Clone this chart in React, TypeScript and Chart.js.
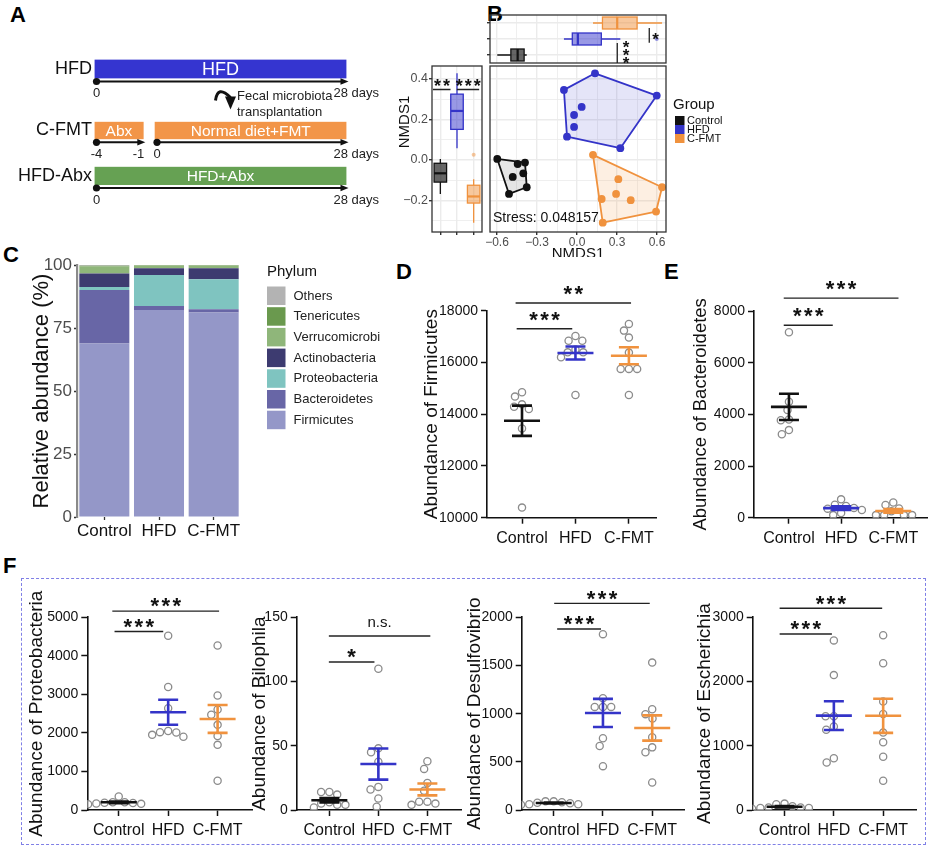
import React, { useEffect, useRef } from 'react';
import { Chart, registerables } from 'chart.js';

Chart.register(...registerables);

const FONT = '"Liberation Sans", Arial, Helvetica, sans-serif';
Chart.defaults.font.family = FONT;
Chart.defaults.color = '#111';

// ================= DATA =================
const GROUPS = ['Control', 'HFD', 'C-FMT'];

// Panel A - experimental timeline (days)
const TIMELINE_ROWS = ['HFD', 'C-FMT', 'HFD-Abx'];
const PHASE_NAMES = ['HFD', 'Abx', 'Normal diet+FMT', 'HFD+Abx'];
const HFD_DAYS = [0, 28];
const ABX_DAYS = [-4, -1];
const FMT_DAYS = [0, 28];
const HFD_ABX_DAYS = [0, 28];
const FMT_NOTE = ['Fecal microbiota', 'transplantation'];

// Panel B - NMDS coordinates [NMDS1, NMDS2]
const NMDS_CONTROL = [[-0.598, 0.005], [-0.445, -0.02], [-0.39, -0.013], [-0.482, -0.084], [-0.403, -0.066], [-0.377, -0.135], [-0.51, -0.168]];
const NMDS_HFD = [[0.135, 0.428], [-0.098, 0.346], [0.598, 0.318], [0.035, 0.262], [-0.022, 0.222], [-0.022, 0.163], [-0.075, 0.115], [0.325, 0.058]];
const NMDS_CFMT = [[0.12, 0.025], [0.31, -0.095], [0.293, -0.168], [0.185, -0.193], [0.403, -0.199], [0.638, -0.135], [0.593, -0.255], [0.193, -0.31]];
const NMDS_STRESS = '0.048157';
const NMDS1_TICKS = [-0.6, -0.3, 0, 0.3, 0.6];
const NMDS2_TICKS = [-0.2, 0, 0.2, 0.4];

// Panel C - relative abundance (%)
const PHYLA = ['Firmicutes', 'Bacteroidetes', 'Proteobacteria', 'Actinobacteria', 'Verrucomicrobia', 'Tenericutes', 'Others'];
const PHYLUM_CONTROL = [68.8, 21.3, 1.2, 5.3, 2.8, 0.3, 0.3];
const PHYLUM_HFD = [82.1, 1.6, 12.3, 2.7, 1.0, 0.2, 0.1];
const PHYLUM_CFMT = [81.2, 1.2, 11.9, 4.4, 1.0, 0.2, 0.1];
const PHYLUM_TICKS = [0, 25, 50, 75, 100];

// Panel D
const FIRMICUTES_CONTROL = [14850, 14680, 14290, 14380, 14200, 13450, 10390];
const FIRMICUTES_HFD = [16840, 17020, 16840, 16390, 16390, 16500, 16200, 14740];
const FIRMICUTES_CFMT = [17490, 17230, 16960, 16380, 15750, 15750, 15750, 14740];
// Panel E
const BACTEROIDETES_CONTROL = [7180, 3800, 3770, 3230, 3390, 4490, 4170];
const BACTEROIDETES_HFD = [710, 100, 450, 500, 180, 380, 300, 350];
const BACTEROIDETES_CFMT = [490, 590, 360, 100, 100, 100, 100, 250];
// Panel F
const PROTEO_CONTROL = [350, 200, 180, 160, 150, 200, 170, 190];
const PROTEO_HFD = [4520, 3190, 2640, 1950, 2050, 2010, 2020, 1900];
const PROTEO_CFMT = [4270, 2970, 2470, 2610, 2210, 1920, 1690, 760];
const BILOPHILA_CONTROL = [12, 14, 14, 4, 5, 2, 6, 4];
const BILOPHILA_HFD = [110, 48, 45, 37.6, 16, 18, 9, 2.6];
const BILOPHILA_CFMT = [38, 32, 21, 15, 4, 6.5, 5, 6.5];
const DESULFO_CONTROL = [60, 90, 90, 80, 70, 55, 60, 75];
const DESULFO_HFD = [1825, 1070, 1070, 1070, 1160, 745, 665, 455];
const DESULFO_CFMT = [1530, 1045, 950, 995, 755, 650, 600, 285];
const ESCH_CONTROL = [90, 100, 30, 20, 40, 60, 30, 40];
const ESCH_HFD = [2640, 2100, 1460, 1460, 1300, 1250, 740, 805];
const ESCH_CFMT = [2720, 2285, 1690, 1495, 1205, 1055, 830, 455];

// ================= STYLE =================
const GROUP_COLORS = ['#111111', '#3434c8', '#f0923e'];
const HULL_FILLS = ['rgba(0,0,0,0.1)', 'rgba(52,52,204,0.13)', 'rgba(240,146,62,0.15)'];
const BOX_FILLS = ['rgba(0,0,0,0.6)', 'rgba(52,52,204,0.5)', 'rgba(240,146,62,0.5)'];
const PHYLUM_COLORS = ['#9497c8', '#6866a6', '#7fc4c0', '#3d3b70', '#8fb67a', '#6a994e', '#b3b3b3'];
const TIMELINE_COLORS = ['#3535d0', '#f29548', '#f29548', '#66a153'];

const NMDS1_RANGE = [-0.6525, 0.6675];
const NMDS2_RANGE = [-0.356, 0.464];

// ================= HELPERS =================
const base: any = {
  responsive: false,
  maintainAspectRatio: false,
  animation: false,
  events: [],
  plugins: { legend: { display: false }, tooltip: { enabled: false }, title: { display: false } },
};

const zeroPad = (s: any) => { s.paddingLeft = 0; s.paddingRight = 0; s.paddingTop = 0; s.paddingBottom = 0; };

const mean = (a: number[]) => a.reduce((s, v) => s + v, 0) / a.length;
const sem = (a: number[]) => {
  const m = mean(a);
  const sd = Math.sqrt(a.reduce((s, v) => s + (v - m) ** 2, 0) / (a.length - 1));
  return sd / Math.sqrt(a.length);
};

function quantile(sorted: number[], p: number) {
  const pos = (sorted.length - 1) * p;
  const lo = Math.floor(pos), hi = Math.ceil(pos);
  return sorted[lo] + (sorted[hi] - sorted[lo]) * (pos - lo);
}
function boxStats(vals: number[]) {
  const s = [...vals].sort((a, b) => a - b);
  const q1 = quantile(s, 0.25), med = quantile(s, 0.5), q3 = quantile(s, 0.75);
  const iqr = q3 - q1;
  const lf = q1 - 1.5 * iqr, uf = q3 + 1.5 * iqr;
  const inside = s.filter(v => v >= lf && v <= uf);
  return { q1, med, q3, lo: inside[0], hi: inside[inside.length - 1], out: s.filter(v => v < lf || v > uf) };
}

function convexHull(pts: number[][]) {
  const p = [...pts].sort((a, b) => a[0] - b[0] || a[1] - b[1]);
  const cross = (o: number[], a: number[], b: number[]) => (a[0] - o[0]) * (b[1] - o[1]) - (a[1] - o[1]) * (b[0] - o[0]);
  const lower: number[][] = [];
  for (const q of p) { while (lower.length >= 2 && cross(lower[lower.length - 2], lower[lower.length - 1], q) <= 0) lower.pop(); lower.push(q); }
  const upper: number[][] = [];
  for (const q of [...p].reverse()) { while (upper.length >= 2 && cross(upper[upper.length - 2], upper[upper.length - 1], q) <= 0) upper.pop(); upper.push(q); }
  return lower.slice(0, -1).concat(upper.slice(0, -1));
}

// beeswarm offsets (px) for a set of values
function swarm(vals: number[], pxPerVal: number, d: number) {
  const order = vals.map((_, i) => i).sort((a, b) => vals[b] - vals[a]);
  const placed: { x: number; y: number }[] = [];
  const out = new Array(vals.length).fill(0);
  for (const i of order) {
    const y = vals[i] * pxPerVal;
    const cands = [0];
    for (const p of placed) {
      const dy = Math.abs(p.y - y);
      if (dy < d) { const dx = Math.sqrt(d * d - dy * dy); cands.push(p.x + dx, p.x - dx); }
    }
    cands.sort((a, b) => Math.abs(a) - Math.abs(b) || a - b);
    let chosen = 0;
    for (const c of cands) {
      if (placed.every(p => (p.x - c) ** 2 + (p.y - y) ** 2 >= d * d - 0.01)) { chosen = c; break; }
    }
    placed.push({ x: chosen, y });
    out[i] = chosen;
  }
  return out;
}

function withMinors(majors: number[], range: number[]) {
  const step = majors[1] - majors[0];
  const all: number[] = [];
  for (let k = -1; k <= (majors.length - 1) * 2 + 1; k++) {
    const v = +(majors[0] + (k * step) / 2).toFixed(4);
    if (v >= range[0] - 1e-9 && v <= range[1] + 1e-9) all.push(v);
  }
  return all;
}
const isMajorOf = (majors: number[]) => (v: number) => majors.some(m => Math.abs(m - v) < 1e-6);
const fmtNum = (v: number) => (v < -1e-9 ? '\u2212' : '') + Math.abs(v).toFixed(1);

function drawLabel(ctx: any, label: string, cx: number, cy: number, size: number) {
  ctx.save();
  ctx.fillStyle = '#111';
  if (label.startsWith('*')) {
    const ls = size * 0.11;
    ctx.font = `bold ${size}px ${FONT}`;
    ctx.letterSpacing = `${ls}px`;
    ctx.textAlign = 'center';
    ctx.textBaseline = 'alphabetic';
    ctx.fillText(label, cx + ls / 2, cy + 0.56 * size);
  } else {
    ctx.font = `15px ${FONT}`;
    ctx.textAlign = 'center';
    ctx.textBaseline = 'middle';
    ctx.fillText(label, cx, cy);
  }
  ctx.restore();
}

function drawBox(ctx: any, st: any, cat: number, valScale: any, catScale: any, horizontal: boolean, g: number) {
  const c = catScale.getPixelForValue(cat);
  const hw = Math.abs(catScale.getPixelForValue(cat + 0.375) - c);
  const P = (v: number) => valScale.getPixelForValue(v);
  const pt = (v: number, o: number) => (horizontal ? [P(v), c + o] : [c + o, P(v)]);
  ctx.save();
  ctx.strokeStyle = GROUP_COLORS[g];
  ctx.lineWidth = 1.3;
  ctx.beginPath();
  let a = pt(st.lo, 0), b = pt(st.q1, 0);
  ctx.moveTo(a[0], a[1]); ctx.lineTo(b[0], b[1]);
  a = pt(st.q3, 0); b = pt(st.hi, 0);
  ctx.moveTo(a[0], a[1]); ctx.lineTo(b[0], b[1]);
  ctx.stroke();
  const c1 = pt(st.q1, -hw), c2 = pt(st.q3, hw);
  const rx = Math.min(c1[0], c2[0]), ry = Math.min(c1[1], c2[1]);
  const rw = Math.abs(c2[0] - c1[0]), rh = Math.abs(c2[1] - c1[1]);
  ctx.fillStyle = BOX_FILLS[g];
  ctx.fillRect(rx, ry, rw, rh);
  ctx.strokeRect(rx, ry, rw, rh);
  const m1 = pt(st.med, -hw), m2 = pt(st.med, hw);
  ctx.lineWidth = 2.2;
  ctx.beginPath(); ctx.moveTo(m1[0], m1[1]); ctx.lineTo(m2[0], m2[1]); ctx.stroke();
  ctx.restore();
}

function frame(chart: any) {
  const { ctx, chartArea: a } = chart;
  ctx.save();
  ctx.strokeStyle = '#333';
  ctx.lineWidth = 1.3;
  ctx.strokeRect(a.left, a.top, a.right - a.left, a.bottom - a.top);
  ctx.restore();
}

type BoxPos = { left: number; top: number; width: number; height: number; clip?: number };

function ChartBox({ box, config }: { box: BoxPos; config: () => any }) {
  const ref = useRef<HTMLCanvasElement | null>(null);
  useEffect(() => {
    if (!ref.current) return;
    const chart = new Chart(ref.current, config());
    return () => chart.destroy();
  }, []);
  return (
    <div style={{ position: 'absolute', left: box.left, top: box.top, width: box.width, height: box.clip ?? box.height, overflow: 'hidden' }}>
      <canvas ref={ref} width={box.width} height={box.height} style={{ display: 'block', width: box.width, height: box.height }} />
    </div>
  );
}

// ================= PANEL A =================
const ROW_AREA_LEFT = 94.5;
const ROW_AREA_RIGHT = 346.5;
const ROW_WIDTH = 400;

function rowConfig(o: { label: string; bars: any[]; axes: Record<string, number[]>; padTop: number; padBottom: number; extra?: (c: any) => void }) {
  const scales: any = {
    y: {
      type: 'category', position: 'left',
      afterFit: (s: any) => { s.width = ROW_AREA_LEFT; zeroPad(s); },
      grid: { display: false, drawTicks: false }, border: { display: false },
      ticks: { font: { size: 18 }, color: '#111', padding: 2.5 },
    },
  };
  for (const [id, r] of Object.entries(o.axes)) {
    scales[id] = { type: 'linear', axis: 'x', position: 'bottom', min: r[0], max: r[1], display: false };
  }
  return {
    type: 'bar',
    data: {
      labels: [o.label],
      datasets: o.bars.map(b => ({
        label: b.text, data: [b.period], backgroundColor: b.color, xAxisID: b.axis,
        barPercentage: 1, categoryPercentage: 1, grouped: false, borderWidth: 0, textSize: b.size,
      })),
    },
    options: {
      ...base, indexAxis: 'y',
      layout: { padding: { left: 0, right: ROW_WIDTH - ROW_AREA_RIGHT, top: o.padTop, bottom: o.padBottom } },
      scales,
    },
    plugins: [{
      id: 'timeline',
      afterDatasetsDraw(chart: any) {
        const { ctx, chartArea } = chart;
        const ay = chartArea.bottom + 3;
        chart.data.datasets.forEach((ds: any, i: number) => {
          const el = chart.getDatasetMeta(i).data[0];
          const sc = chart.scales[ds.xAxisID];
          const [s, e] = ds.data[0];
          const x0 = sc.getPixelForValue(s), x1 = sc.getPixelForValue(e);
          ctx.save();
          ctx.fillStyle = '#fff';
          ctx.font = `${ds.textSize}px ${FONT}`;
          ctx.textAlign = 'center';
          ctx.textBaseline = 'middle';
          ctx.fillText(ds.label, (x0 + x1) / 2, el.y + 1);
          const sx = x0 + 2;
          ctx.strokeStyle = '#111'; ctx.fillStyle = '#111'; ctx.lineWidth = 1.9;
          ctx.beginPath(); ctx.moveTo(sx, ay); ctx.lineTo(x1 - 3, ay); ctx.stroke();
          ctx.beginPath(); ctx.arc(sx, ay, 3.6, 0, Math.PI * 2); ctx.fill();
          ctx.beginPath(); ctx.moveTo(x1 + 2, ay); ctx.lineTo(x1 - 6, ay - 3.3); ctx.lineTo(x1 - 6, ay + 3.3); ctx.closePath(); ctx.fill();
          ctx.font = `13px ${FONT}`; ctx.fillStyle = '#222';
          ctx.textAlign = 'center';
          ctx.fillText(String(s), sx, ay + 12);
          if (e === 28) { ctx.textAlign = 'left'; ctx.fillText('28 days', x1 - 13, ay + 12); }
          else { ctx.textAlign = 'right'; ctx.fillText(String(e), x1 + 1, ay + 12); }
          ctx.restore();
        });
        if (o.extra) o.extra(chart);
      },
    }],
  };
}

const row1Config = () => rowConfig({
  label: TIMELINE_ROWS[0],
  bars: [{ text: PHASE_NAMES[0], period: HFD_DAYS, color: TIMELINE_COLORS[0], axis: 'x', size: 18 }],
  axes: { x: [0, 28] }, padTop: 5.5, padBottom: 41.5,
  extra: (chart: any) => {
    const { ctx, chartArea } = chart;
    const bx = chartArea.left + 121;
    const by = chartArea.bottom;
    ctx.save();
    ctx.strokeStyle = '#111'; ctx.fillStyle = '#111'; ctx.lineWidth = 3;
    ctx.beginPath(); ctx.moveTo(bx, by + 22); ctx.quadraticCurveTo(bx + 2, by + 6, bx + 15, by + 19); ctx.stroke();
    ctx.beginPath(); ctx.moveTo(bx + 9.5, by + 18); ctx.lineTo(bx + 20.5, by + 18); ctx.lineTo(bx + 15, by + 31); ctx.closePath(); ctx.fill();
    ctx.font = `13px ${FONT}`; ctx.fillStyle = '#222'; ctx.textAlign = 'left'; ctx.textBaseline = 'middle';
    ctx.fillText(FMT_NOTE[0], bx + 21.5, by + 18.2);
    ctx.fillText(FMT_NOTE[1], bx + 21.5, by + 33.8);
    ctx.restore();
  },
});
const row2Config = () => rowConfig({
  label: TIMELINE_ROWS[1],
  bars: [
    { text: PHASE_NAMES[1], period: ABX_DAYS, color: TIMELINE_COLORS[1], axis: 'xa', size: 15.5 },
    { text: PHASE_NAMES[2], period: FMT_DAYS, color: TIMELINE_COLORS[2], axis: 'xb', size: 15.5 },
  ],
  axes: { xa: [-4, 11.49], xb: [-8.85, 28] }, padTop: 5.7, padBottom: 24.7,
});
const row3Config = () => rowConfig({
  label: TIMELINE_ROWS[2],
  bars: [{ text: PHASE_NAMES[3], period: HFD_ABX_DAYS, color: TIMELINE_COLORS[3], axis: 'x', size: 15.5 }],
  axes: { x: [0, 28] }, padTop: 4.7, padBottom: 23,
});

// ================= PANEL B =================
const NMDS_SETS = [NMDS_CONTROL, NMDS_HFD, NMDS_CFMT];
const NMDS1_ALL = withMinors(NMDS1_TICKS, NMDS1_RANGE);
const NMDS2_ALL = withMinors(NMDS2_TICKS, NMDS2_RANGE);
const isMajor1 = isMajorOf(NMDS1_TICKS);
const isMajor2 = isMajorOf(NMDS2_TICKS);
const GRID_COLOR = '#ebebeb';

const nmdsXAxis = (extra: any) => ({
  type: 'linear', min: NMDS1_RANGE[0], max: NMDS1_RANGE[1],
  afterBuildTicks: (s: any) => { s.ticks = NMDS1_ALL.map(v => ({ value: v })); },
  grid: { color: GRID_COLOR, lineWidth: (c: any) => (isMajor1(c.tick?.value) ? 1.4 : 0.8), drawTicks: false },
  border: { display: false },
  ...extra,
});
const nmdsYAxis = (extra: any) => ({
  type: 'linear', min: NMDS2_RANGE[0], max: NMDS2_RANGE[1],
  afterBuildTicks: (s: any) => { s.ticks = NMDS2_ALL.map(v => ({ value: v })); },
  grid: { color: GRID_COLOR, lineWidth: (c: any) => (isMajor2(c.tick?.value) ? 1.4 : 0.8), drawTicks: false },
  border: { display: false },
  ...extra,
});

const nmdsMainConfig = () => ({
  type: 'scatter',
  data: {
    datasets: NMDS_SETS.map((pts, g) => ({
      label: GROUPS[g], data: pts.map(p => ({ x: p[0], y: p[1] })),
      pointRadius: 3.9, pointBackgroundColor: GROUP_COLORS[g], pointBorderWidth: 0,
    })),
  },
  options: {
    ...base,
    layout: { padding: { left: 0, top: 4, right: 64, bottom: 0 } },
    scales: {
      x: nmdsXAxis({
        afterFit: (s: any) => { s.height = 40; zeroPad(s); },
        ticks: { callback: (v: number) => (isMajor1(v) ? fmtNum(v) : ''), font: { size: 12 }, color: '#4d4d4d', padding: 0, autoSkip: false, maxRotation: 0 },
        grid: { color: GRID_COLOR, lineWidth: (c: any) => (isMajor1(c.tick?.value) ? 1.4 : 0.8), drawTicks: true, tickLength: 3, tickColor: (c: any) => (isMajor1(c.tick?.value) ? '#333' : 'rgba(0,0,0,0)') },
        title: { display: true, text: 'NMDS1', font: { size: 15 }, color: '#111', padding: { top: 0, bottom: 9 } },
      }),
      y: nmdsYAxis({ afterFit: (s: any) => { s.width = 4; zeroPad(s); }, ticks: { display: false } }),
    },
  },
  plugins: [{
    id: 'nmdsMain',
    beforeDatasetsDraw(chart: any) {
      const { ctx, scales: { x, y } } = chart;
      NMDS_SETS.forEach((pts, g) => {
        const hull = convexHull(pts);
        ctx.save();
        ctx.beginPath();
        hull.forEach((p, i) => {
          const px = x.getPixelForValue(p[0]), py = y.getPixelForValue(p[1]);
          if (i) ctx.lineTo(px, py); else ctx.moveTo(px, py);
        });
        ctx.closePath();
        ctx.fillStyle = HULL_FILLS[g]; ctx.fill();
        ctx.strokeStyle = GROUP_COLORS[g]; ctx.lineWidth = 1.8; ctx.lineJoin = 'round'; ctx.stroke();
        ctx.restore();
      });
    },
    afterDraw(chart: any) {
      frame(chart);
      const { ctx, chartArea: a } = chart;
      ctx.save();
      ctx.fillStyle = '#111';
      ctx.font = `14px ${FONT}`;
      ctx.textAlign = 'left'; ctx.textBaseline = 'middle';
      ctx.fillText(`Stress: ${NMDS_STRESS}`, a.left + 3, a.bottom - 14);
      // legend
      const lx = a.right + 9;
      ctx.font = `15px ${FONT}`;
      ctx.fillText('Group', lx - 2, 43);
      GROUPS.forEach((gname, g) => {
        const ty = 54 + g * 9;
        ctx.fillStyle = GROUP_COLORS[g];
        ctx.fillRect(lx, ty, 9.5, 9);
        ctx.fillStyle = '#111';
        ctx.font = `11px ${FONT}`;
        ctx.fillText(gname, lx + 12, ty + 5);
      });
      ctx.restore();
    },
  }],
});

const nmdsTopConfig = () => ({
  type: 'scatter',
  data: {
    datasets: NMDS_SETS.map((pts, g) => ({
      data: boxStats(pts.map(p => p[0])).out.map(v => ({ x: v, y: g + 1 })),
      pointRadius: 2, pointBackgroundColor: BOX_FILLS[g], pointBorderWidth: 0,
    })),
  },
  options: {
    ...base,
    layout: { padding: { left: 0, top: 5, right: 6, bottom: 0 } },
    scales: {
      x: nmdsXAxis({ afterFit: (s: any) => { s.height = 5; zeroPad(s); }, ticks: { display: false } }),
      y: {
        type: 'linear', min: 0.5, max: 3.5,
        afterBuildTicks: (s: any) => { s.ticks = [1, 2, 3].map(v => ({ value: v })); },
        afterFit: (s: any) => { s.width = 4; zeroPad(s); },
        ticks: { display: false },
        grid: { color: GRID_COLOR, lineWidth: 1.4, drawTicks: true, tickLength: 3, tickColor: '#333' },
        border: { display: false },
      },
    },
  },
  plugins: [{
    id: 'nmdsTop',
    beforeDatasetsDraw(chart: any) {
      const { ctx, scales: { x, y } } = chart;
      NMDS_SETS.forEach((pts, g) => drawBox(ctx, boxStats(pts.map(p => p[0])), g + 1, x, y, true, g));
    },
    afterDraw(chart: any) {
      frame(chart);
      const { ctx, scales: { x, y } } = chart;
      ctx.save();
      ctx.strokeStyle = '#222'; ctx.lineWidth = 1.3;
      ctx.beginPath();
      ctx.moveTo(x.getPixelForValue(0.302), y.getPixelForValue(0.5));
      ctx.lineTo(x.getPixelForValue(0.302), y.getPixelForValue(1.75));
      ctx.moveTo(x.getPixelForValue(0.542), y.getPixelForValue(1.77));
      ctx.lineTo(x.getPixelForValue(0.542), y.getPixelForValue(2.69));
      ctx.stroke();
      ctx.restore();
      [1.69, 1.22, 0.75].forEach(r => drawLabel(ctx, '*', x.getPixelForValue(0.368), y.getPixelForValue(r), 17));
      drawLabel(ctx, '*', x.getPixelForValue(0.59), y.getPixelForValue(2.25), 17);
    },
  }],
});

const nmdsLeftConfig = () => ({
  type: 'scatter',
  data: {
    datasets: NMDS_SETS.map((pts, g) => ({
      data: boxStats(pts.map(p => p[1])).out.map(v => ({ x: g + 1, y: v })),
      pointRadius: 2, pointBackgroundColor: BOX_FILLS[g], pointBorderWidth: 0,
    })),
  },
  options: {
    ...base,
    layout: { padding: { left: 0, top: 4, right: 0, bottom: 0 } },
    scales: {
      x: {
        type: 'linear', min: 0.5, max: 3.5,
        afterBuildTicks: (s: any) => { s.ticks = [1, 2, 3].map(v => ({ value: v })); },
        afterFit: (s: any) => { s.height = 15; zeroPad(s); },
        ticks: { display: false },
        grid: { color: GRID_COLOR, lineWidth: 1.4, drawTicks: true, tickLength: 3, tickColor: '#333' },
        border: { display: false },
      },
      y: nmdsYAxis({
        afterFit: (s: any) => { s.width = 37; zeroPad(s); },
        ticks: { callback: (v: number) => (isMajor2(v) ? fmtNum(v) : ''), font: { size: 12.5 }, color: '#4d4d4d', padding: 1, autoSkip: false },
        grid: { color: GRID_COLOR, lineWidth: (c: any) => (isMajor2(c.tick?.value) ? 1.4 : 0.8), drawTicks: true, tickLength: 3, tickColor: (c: any) => (isMajor2(c.tick?.value) ? '#333' : 'rgba(0,0,0,0)') },
      }),
    },
  },
  plugins: [{
    id: 'nmdsLeft',
    beforeDatasetsDraw(chart: any) {
      const { ctx, scales: { x, y } } = chart;
      NMDS_SETS.forEach((pts, g) => drawBox(ctx, boxStats(pts.map(p => p[1])), g + 1, y, x, false, g));
    },
    afterDraw(chart: any) {
      frame(chart);
      const { ctx, chartArea: a, scales: { x, y } } = chart;
      ctx.save();
      ctx.strokeStyle = '#222'; ctx.lineWidth = 1.3;
      ctx.beginPath();
      ctx.moveTo(x.getPixelForValue(0.555), y.getPixelForValue(0.348));
      ctx.lineTo(x.getPixelForValue(1.61), y.getPixelForValue(0.348));
      ctx.moveTo(x.getPixelForValue(1.99), y.getPixelForValue(0.348));
      ctx.lineTo(x.getPixelForValue(3.33), y.getPixelForValue(0.348));
      ctx.stroke();
      ctx.translate(a.left - 27, a.top + 56);
      ctx.rotate(-Math.PI / 2);
      ctx.fillStyle = '#111';
      ctx.font = `15px ${FONT}`;
      ctx.textAlign = 'center'; ctx.textBaseline = 'middle';
      ctx.fillText('NMDS1', 0, 0);
      ctx.restore();
      drawLabel(ctx, '**', x.getPixelForValue(1.1), y.getPixelForValue(0.383), 18);
      drawLabel(ctx, '***', x.getPixelForValue(2.68), y.getPixelForValue(0.383), 18);
    },
  }],
});

// ================= PANEL C =================
const phylumConfig = () => ({
  type: 'bar',
  data: {
    labels: GROUPS,
    datasets: PHYLA.map((name, i) => ({
      label: name, data: [PHYLUM_CONTROL[i], PHYLUM_HFD[i], PHYLUM_CFMT[i]],
      backgroundColor: PHYLUM_COLORS[i], borderWidth: 0, barPercentage: 0.915, categoryPercentage: 1,
    })),
  },
  options: {
    ...base,
    layout: { padding: { left: 0, top: 20, right: 139, bottom: 0 } },
    scales: {
      x: {
        stacked: true,
        afterFit: (s: any) => { s.height = 28; zeroPad(s); },
        ticks: { font: { size: 17 }, color: '#111', padding: 1, autoSkip: false, maxRotation: 0, minRotation: 0 },
        grid: { display: true, offset: false, drawOnChartArea: false, tickLength: 3, tickColor: '#333', tickWidth: 1.3 },
        border: { display: false },
      },
      y: {
        stacked: true, min: 0, max: 100,
        afterBuildTicks: (s: any) => { s.ticks = PHYLUM_TICKS.map(v => ({ value: v })); },
        afterFit: (s: any) => { s.width = 77; zeroPad(s); },
        ticks: { font: { size: 17 }, color: '#4d4d4d', padding: 2 },
        grid: { drawOnChartArea: false, tickLength: 3, tickColor: '#333', tickWidth: 1.3 },
        border: { display: true, color: '#8a8a8a', width: 2.2 },
        title: { display: true, text: 'Relative abundance (%)', font: { size: 22 }, color: '#111', padding: { top: 28.5, bottom: 0 } },
      },
    },
  },
  plugins: [{
    id: 'phylumLegend',
    afterDraw(chart: any) {
      const { ctx } = chart;
      const lx = 267;
      ctx.save();
      ctx.fillStyle = '#111';
      ctx.font = `15px ${FONT}`;
      ctx.textAlign = 'left'; ctx.textBaseline = 'middle';
      ctx.fillText('Phylum', lx, 26.5);
      const items = chart.data.datasets.slice().reverse();
      items.forEach((ds: any, i: number) => {
        const ty = 41.5 + i * 20.7;
        ctx.fillStyle = ds.backgroundColor;
        ctx.fillRect(lx, ty, 18.5, 18.5);
        ctx.fillStyle = '#222';
        ctx.font = `13px ${FONT}`;
        ctx.fillText(ds.label, lx + 26.5, ty + 9.5);
      });
      ctx.restore();
    },
  }],
});

// ================= PANELS D-F =================
type Bracket = { from: number; to: number; y: number; label: string };
type DotSpec = {
  key: string; title: string; titleSize: number; groups: number[][];
  yMin: number; yMax: number; yStep: number; xRange: number[];
  box: BoxPos; area: { left: number; top: number; right: number; bottom: number };
  titleX: number; gap: number; brackets: Bracket[];
};

const DOT_PANELS: DotSpec[] = [
  {
    key: 'D', title: 'Abundance of Firmicutes', titleSize: 19, groups: [FIRMICUTES_CONTROL, FIRMICUTES_HFD, FIRMICUTES_CFMT],
    yMin: 10000, yMax: 18000, yStep: 2000, xRange: [0.345, 3.52],
    box: { left: 400, top: 275, width: 262, height: 275 }, area: { left: 487, top: 310.7, right: 660, bottom: 517.7 },
    titleX: 431.7, gap: 14.5,
    brackets: [{ from: 0.88, to: 3.04, y: 18300, label: '**' }, { from: 0.9, to: 1.94, y: 17300, label: '***' }],
  },
  {
    key: 'E', title: 'Abundance of Bacteroidetes', titleSize: 18.5, groups: [BACTEROIDETES_CONTROL, BACTEROIDETES_HFD, BACTEROIDETES_CFMT],
    yMin: 0, yMax: 8000, yStep: 2000, xRange: [0.33, 3.66],
    box: { left: 672, top: 275, width: 261, height: 275 }, area: { left: 754, top: 311, right: 933, bottom: 517.7 },
    titleX: 700.7, gap: 14.5,
    brackets: [{ from: 0.9, to: 3.1, y: 8500, label: '***' }, { from: 0.9, to: 1.84, y: 7450, label: '***' }],
  },
  {
    key: 'F1', title: 'Abundance of Proteobacteria', titleSize: 19, groups: [PROTEO_CONTROL, PROTEO_HFD, PROTEO_CFMT],
    yMin: 0, yMax: 5000, yStep: 1000, xRange: [0.364, 3.71],
    box: { left: 22, top: 585, width: 236, height: 258 }, area: { left: 87.3, top: 617.3, right: 255.7, bottom: 810 },
    titleX: 36.7, gap: 10,
    brackets: [{ from: 0.87, to: 3.03, y: 5160, label: '***' }, { from: 0.915, to: 1.9, y: 4630, label: '***' }],
  },
  {
    key: 'F2', title: 'Abundance of Bilophila', titleSize: 19, groups: [BILOPHILA_CONTROL, BILOPHILA_HFD, BILOPHILA_CFMT],
    yMin: 0, yMax: 150, yStep: 50, xRange: [0.334, 3.7],
    box: { left: 245, top: 585, width: 222, height: 258 }, area: { left: 296.7, top: 617.3, right: 465, bottom: 810 },
    titleX: 260, gap: 10,
    brackets: [{ from: 0.99, to: 3.06, y: 135.4, label: 'n.s.' }, { from: 0.99, to: 1.92, y: 115.2, label: '*' }],
  },
  {
    key: 'F3', title: 'Abundance of Desulfovibrio', titleSize: 19, groups: [DESULFO_CONTROL, DESULFO_HFD, DESULFO_CFMT],
    yMin: 0, yMax: 2000, yStep: 500, xRange: [0.35, 3.66],
    box: { left: 460, top: 585, width: 230, height: 258 }, area: { left: 521.7, top: 617.3, right: 688, bottom: 810 },
    titleX: 475, gap: 10,
    brackets: [{ from: 1.01, to: 2.95, y: 2145, label: '***' }, { from: 1.07, to: 1.96, y: 1879, label: '***' }],
  },
  {
    key: 'F4', title: 'Abundance of Escherichia', titleSize: 19, groups: [ESCH_CONTROL, ESCH_HFD, ESCH_CFMT],
    yMin: 0, yMax: 3000, yStep: 1000, xRange: [0.354, 3.68],
    box: { left: 690, top: 585, width: 232, height: 258 }, area: { left: 752.7, top: 617.3, right: 919, bottom: 810 },
    titleX: 705, gap: 10,
    brackets: [{ from: 0.9, to: 2.98, y: 3140, label: '***' }, { from: 0.9, to: 1.96, y: 2740, label: '***' }],
  },
];

function dotConfig(p: DotSpec) {
  const yw = p.area.left - p.box.left;
  const padTop = p.area.top - p.box.top;
  const padRight = p.box.left + p.box.width - p.area.right;
  const xh = p.box.top + p.box.height - p.area.bottom;
  const pxPerVal = (p.area.bottom - p.area.top) / (p.yMax - p.yMin);
  const pxPerX = (p.area.right - p.area.left) / (p.xRange[1] - p.xRange[0]);
  const titlePad = p.titleX - p.box.left - (p.titleSize * 1.2) / 2;
  const axisGrid = { display: true, drawOnChartArea: false, drawTicks: true, tickLength: 6, tickColor: '#111', tickWidth: 1.5 };
  const axisBorder = { display: true, color: '#111', width: 1.6 };
  return {
    type: 'scatter',
    data: {
      datasets: p.groups.map((vals, g) => {
        const offs = swarm(vals, pxPerVal, 8.4);
        return {
          label: GROUPS[g],
          data: vals.map((v, i) => ({ x: g + 1 + offs[i] / pxPerX, y: v })),
          pointRadius: 3.6, pointBorderWidth: 1.3, pointBorderColor: '#8c8c8c', pointBackgroundColor: 'rgba(255,255,255,0.6)',
        };
      }),
    },
    options: {
      ...base,
      layout: { padding: { left: 0, top: padTop, right: padRight, bottom: 0 } },
      scales: {
        x: {
          type: 'linear', min: p.xRange[0], max: p.xRange[1],
          afterBuildTicks: (s: any) => { s.ticks = [1, 2, 3].map(v => ({ value: v })); },
          afterFit: (s: any) => { s.height = xh; zeroPad(s); },
          ticks: { callback: (v: number) => GROUPS[Math.round(v) - 1] ?? '', font: { size: 16 }, color: '#111', padding: 5, autoSkip: false, maxRotation: 0 },
          grid: axisGrid, border: axisBorder,
        },
        y: {
          type: 'linear', min: p.yMin, max: p.yMax,
          afterFit: (s: any) => { s.width = yw; zeroPad(s); },
          ticks: { stepSize: p.yStep, callback: (v: number) => String(v), font: { size: 14 }, color: '#111', padding: 3 },
          grid: axisGrid, border: axisBorder,
          title: { display: true, text: p.title, font: { size: p.titleSize }, color: '#111', padding: { top: titlePad, bottom: 0 } },
        },
      },
    },
    plugins: [{
      id: 'dotStats',
      afterDatasetsDraw(chart: any) {
        const { ctx, scales: { x, y } } = chart;
        ctx.save();
        p.groups.forEach((vals, g) => {
          const m = mean(vals), se = sem(vals);
          const cx = x.getPixelForValue(g + 1);
          const ym = y.getPixelForValue(m), yt = y.getPixelForValue(m + se), yb = y.getPixelForValue(Math.max(m - se, p.yMin));
          ctx.strokeStyle = GROUP_COLORS[g];
          ctx.lineWidth = 2.6;
          ctx.beginPath();
          ctx.moveTo(cx - 18, ym); ctx.lineTo(cx + 18, ym);
          ctx.moveTo(cx, yt); ctx.lineTo(cx, yb);
          ctx.moveTo(cx - 10, yt); ctx.lineTo(cx + 10, yt);
          ctx.moveTo(cx - 10, yb); ctx.lineTo(cx + 10, yb);
          ctx.stroke();
        });
        ctx.strokeStyle = '#222';
        ctx.lineWidth = 1.4;
        p.brackets.forEach(b => {
          const x1 = x.getPixelForValue(b.from), x2 = x.getPixelForValue(b.to), yy = y.getPixelForValue(b.y);
          ctx.beginPath(); ctx.moveTo(x1, yy); ctx.lineTo(x2, yy); ctx.stroke();
        });
        ctx.restore();
        p.brackets.forEach(b => {
          const x1 = x.getPixelForValue(b.from), x2 = x.getPixelForValue(b.to), yy = y.getPixelForValue(b.y);
          const gap = b.label.startsWith('*') ? p.gap : p.gap + 3;
          drawLabel(ctx, b.label, (x1 + x2) / 2, yy - gap, 22);
        });
      },
    }],
  };
}

// ================= APP =================
const letterStyle = (left: number, top: number): React.CSSProperties => ({
  position: 'absolute', left, top, fontFamily: FONT, fontWeight: 'bold', fontSize: 22, lineHeight: 1, color: '#000',
});

export default function App() {
  return (
    <div style={{ position: 'absolute', left: 0, top: 0, width: 933, height: 858, background: '#fff', overflow: 'hidden' }}>
      <div style={letterStyle(10, 4)}>A</div>
      <div style={letterStyle(487, 3)}>B</div>
      <div style={letterStyle(3, 244)}>C</div>
      <div style={letterStyle(396, 261)}>D</div>
      <div style={letterStyle(664, 261)}>E</div>
      <div style={letterStyle(3, 555)}>F</div>

      <ChartBox box={{ left: 0, top: 54, width: ROW_WIDTH, height: 66 }} config={row1Config} />
      <ChartBox box={{ left: 0, top: 116, width: ROW_WIDTH, height: 48 }} config={row2Config} />
      <ChartBox box={{ left: 0, top: 162, width: ROW_WIDTH, height: 46 }} config={row3Config} />

      <ChartBox box={{ left: 486, top: 10, width: 186, height: 58 }} config={nmdsTopConfig} />
      <ChartBox box={{ left: 395, top: 62, width: 91, height: 185 }} config={nmdsLeftConfig} />
      <ChartBox box={{ left: 486, top: 62, width: 244, height: 210, clip: 195 }} config={nmdsMainConfig} />

      <ChartBox box={{ left: 0, top: 245, width: 380, height: 300 }} config={phylumConfig} />

      <div style={{ position: 'absolute', left: 21, top: 578, width: 903, height: 265, border: '1.5px dashed #7f7fe6' }} />

      {DOT_PANELS.map(p => (
        <ChartBox key={p.key} box={p.box} config={() => dotConfig(p)} />
      ))}
    </div>
  );
}
